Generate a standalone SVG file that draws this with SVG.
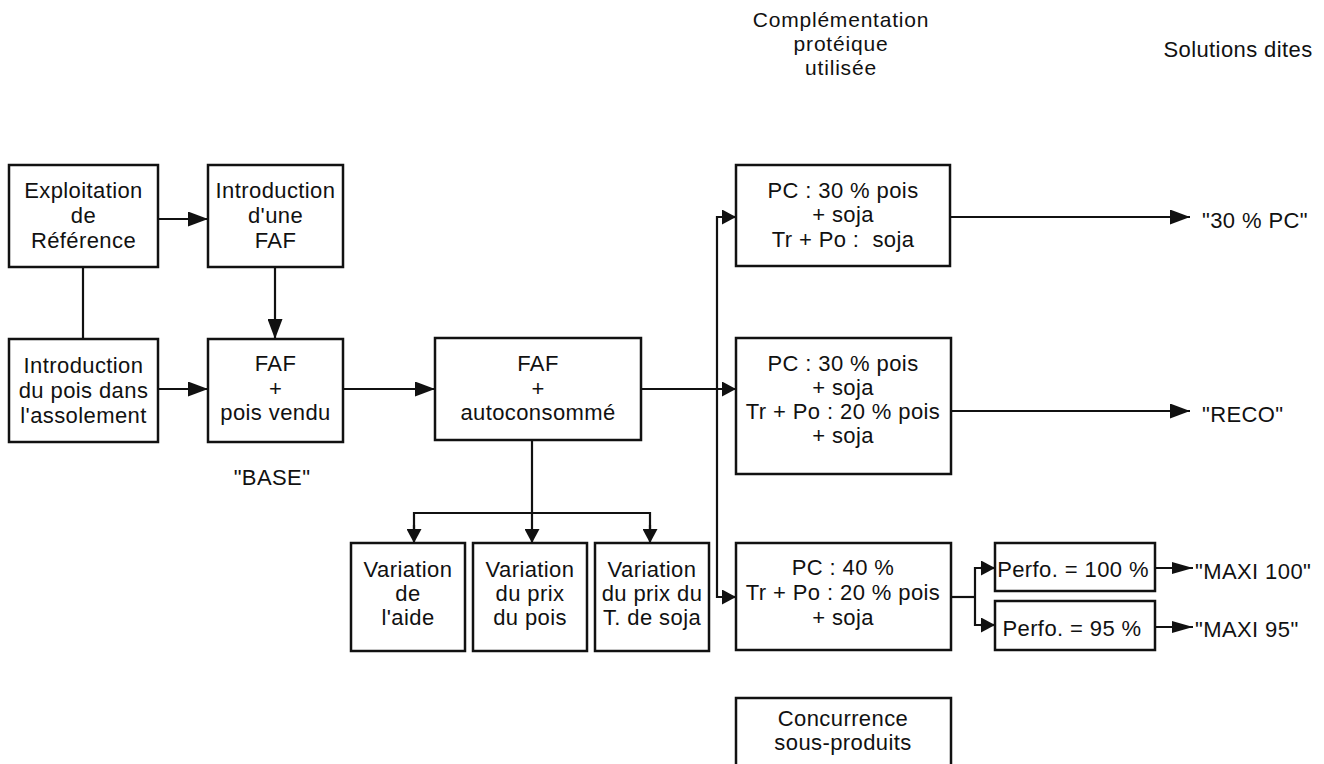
<svg xmlns="http://www.w3.org/2000/svg" width="1324" height="764" viewBox="0 0 1324 764">
<style>
  text { font-family: "Liberation Sans", Arial, Helvetica, sans-serif; font-size: 22px; fill: #111; letter-spacing: 0.4px; white-space: pre; }
  .c { text-anchor: middle; }
  .hd { font-size: 21px; letter-spacing: 0.8px; }
  .box { fill: #fff; stroke: #111; stroke-width: 2.5; }
  .ln { fill: none; stroke: #111; stroke-width: 2.2; }
</style>
<defs>
  <marker id="big" markerUnits="userSpaceOnUse" markerWidth="20" markerHeight="15" refX="20" refY="7.5" orient="auto">
    <path d="M0,0 L20,7.5 L0,15 z" fill="#111"/>
  </marker>
  <marker id="small" markerUnits="userSpaceOnUse" markerWidth="14" markerHeight="15" refX="14" refY="7.5" orient="auto">
    <path d="M0,0 L14,7.5 L0,15 z" fill="#111"/>
  </marker>
  <marker id="slim" markerUnits="userSpaceOnUse" markerWidth="21" markerHeight="12" refX="21" refY="6" orient="auto">
    <path d="M0,0 L21,6 L0,12 z" fill="#111"/>
  </marker>
</defs>
<rect width="1324" height="764" fill="#fff"/>

<g id="header-complementation">
  <text class="c hd" x="841" y="27">Complémentation</text>
  <text class="c hd" x="841" y="51">protéique</text>
  <text class="c hd" x="841" y="75">utilisée</text>
</g>
<g id="header-solutions">
  <text class="c" x="1238" y="57">Solutions dites</text>
</g>

<g id="connectors">
  <line class="ln" x1="158" y1="219" x2="208" y2="219" marker-end="url(#big)"/>
  <line class="ln" x1="83" y1="267" x2="83" y2="339"/>
  <line class="ln" x1="275" y1="267" x2="275" y2="339" marker-end="url(#big)"/>
  <line class="ln" x1="158" y1="389" x2="208" y2="389" marker-end="url(#big)"/>
  <line class="ln" x1="343" y1="389" x2="435" y2="389" marker-end="url(#big)"/>
  <line class="ln" x1="641" y1="389" x2="736" y2="389" marker-end="url(#small)"/>
  <polyline class="ln" points="730,217 717,217 717,597 730,597"/>
  <line class="ln" x1="722" y1="217" x2="736" y2="217" marker-end="url(#small)"/>
  <line class="ln" x1="722" y1="597" x2="736" y2="597" marker-end="url(#small)"/>
  <line class="ln" x1="532" y1="440" x2="532" y2="543" marker-end="url(#small)"/>
  <polyline class="ln" points="414,535 414,513 650,513 650,535"/>
  <line class="ln" x1="414" y1="525" x2="414" y2="543" marker-end="url(#small)"/>
  <line class="ln" x1="650" y1="525" x2="650" y2="543" marker-end="url(#small)"/>
  <line class="ln" x1="950" y1="217" x2="1190" y2="217" marker-end="url(#big)"/>
  <line class="ln" x1="951" y1="411" x2="1190" y2="411" marker-end="url(#big)"/>
  <polyline class="ln" points="951,597 975,597"/>
  <polyline class="ln" points="989,568 975,568 975,625 989,625"/>
  <line class="ln" x1="980" y1="568" x2="995" y2="568" marker-end="url(#small)"/>
  <line class="ln" x1="980" y1="625" x2="995" y2="625" marker-end="url(#small)"/>
  <line class="ln" x1="1155" y1="568" x2="1193" y2="568" marker-end="url(#slim)"/>
  <line class="ln" x1="1155" y1="627" x2="1193" y2="627" marker-end="url(#slim)"/>
</g>

<g id="exploitation-reference">
  <rect class="box" x="9" y="165" width="149" height="102"/>
  <text class="c" x="83.5" y="198">Exploitation</text>
  <text class="c" x="83.5" y="223">de</text>
  <text class="c" x="83.5" y="248">Référence</text>
</g>
<g id="introduction-faf">
  <rect class="box" x="208" y="165" width="135" height="102"/>
  <text class="c" x="275.5" y="198">Introduction</text>
  <text class="c" x="275.5" y="223">d'une</text>
  <text class="c" x="275.5" y="248">FAF</text>
</g>
<g id="introduction-pois">
  <rect class="box" x="9" y="339" width="149" height="103"/>
  <text class="c" x="83.5" y="373">Introduction</text>
  <text class="c" x="83.5" y="398">du pois dans</text>
  <text class="c" x="83.5" y="423">l'assolement</text>
</g>
<g id="faf-pois-vendu">
  <rect class="box" x="208" y="339" width="135" height="103"/>
  <text class="c" x="275.5" y="371">FAF</text>
  <text class="c" x="275.5" y="396">+</text>
  <text class="c" x="275.5" y="420">pois vendu</text>
</g>
<g id="base-label">
  <text class="c" x="272" y="485">"BASE"</text>
</g>
<g id="faf-autoconsomme">
  <rect class="box" x="435" y="338" width="206" height="102"/>
  <text class="c" x="538" y="371">FAF</text>
  <text class="c" x="538" y="396">+</text>
  <text class="c" x="538" y="420">autoconsommé</text>
</g>
<g id="variation-aide">
  <rect class="box" x="351" y="543" width="114" height="108"/>
  <text class="c" x="408" y="577">Variation</text>
  <text class="c" x="408" y="601">de</text>
  <text class="c" x="408" y="625">l'aide</text>
</g>
<g id="variation-prix-pois">
  <rect class="box" x="473" y="543" width="114" height="108"/>
  <text class="c" x="530" y="577">Variation</text>
  <text class="c" x="530" y="601">du prix</text>
  <text class="c" x="530" y="625">du pois</text>
</g>
<g id="variation-prix-soja">
  <rect class="box" x="595" y="543" width="114" height="108"/>
  <text class="c" x="652" y="577">Variation</text>
  <text class="c" x="652" y="601">du prix du</text>
  <text class="c" x="652" y="625">T. de soja</text>
</g>
<g id="complementation-30pc">
  <rect class="box" x="736" y="165" width="214" height="101"/>
  <text class="c" x="843" y="198">PC : 30 % pois</text>
  <text class="c" x="843" y="222">+ soja</text>
  <text class="c" x="843" y="247">Tr + Po :  soja</text>
</g>
<g id="complementation-reco">
  <rect class="box" x="736" y="338" width="215" height="136"/>
  <text class="c" x="843" y="371">PC : 30 % pois</text>
  <text class="c" x="843" y="395">+ soja</text>
  <text class="c" x="843" y="419">Tr + Po : 20 % pois</text>
  <text class="c" x="843" y="443">+ soja</text>
</g>
<g id="complementation-maxi">
  <rect class="box" x="736" y="543" width="215" height="107"/>
  <text class="c" x="843" y="575">PC : 40 %</text>
  <text class="c" x="843" y="600">Tr + Po : 20 % pois</text>
  <text class="c" x="843" y="625">+ soja</text>
</g>
<g id="concurrence">
  <rect class="box" x="736" y="698" width="215" height="80"/>
  <text class="c" x="843" y="726">Concurrence</text>
  <text class="c" x="843" y="750">sous-produits</text>
</g>
<g id="perfo-100">
  <rect class="box" x="995" y="543" width="160" height="48"/>
  <text class="c" x="1073" y="577">Perfo. = 100 %</text>
</g>
<g id="perfo-95">
  <rect class="box" x="995" y="601" width="160" height="49"/>
  <text class="c" x="1072" y="636">Perfo. = 95 %</text>
</g>
<g id="solution-30pc"><text x="1202" y="228">"30 % PC"</text></g>
<g id="solution-reco"><text x="1202" y="422">"RECO"</text></g>
<g id="solution-maxi100"><text x="1195" y="579">"MAXI 100"</text></g>
<g id="solution-maxi95"><text x="1195" y="637">"MAXI 95"</text></g>
</svg>
